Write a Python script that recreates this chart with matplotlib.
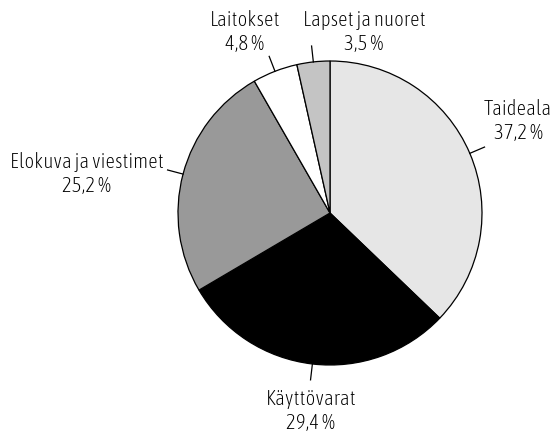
import matplotlib.pyplot as plt
import numpy as np

# Data
labels = ['Taideala', 'Käyttövarat', 'Elokuva ja viestimet', 'Laitokset', 'Lapset ja nuoret']
shares = [37.2, 29.4, 25.2, 4.8, 3.5]
pct_text = ['37,2 %', '29,4 %', '25,2 %', '4,8 %', '3,5 %']
colors = ['#e6e6e6', '#000000', '#999999', '#ffffff', '#c4c4c4']

plt.rcParams['font.family'] = ['Asap Condensed', 'DejaVu Sans']

fig = plt.figure(figsize=(5.51, 4.34), dpi=100)
ax = fig.add_axes([0, 0, 1, 1])

# pie centre and radius in pixels (y measured upwards)
cx, cy, r = 330, 434 - 213, 152
wedges, _ = ax.pie(shares, colors=colors, startangle=90, counterclock=False,
                   center=(cx, cy), radius=r, frame=True,
                   wedgeprops=dict(edgecolor='black', linewidth=0.9))
ax.set_xlim(0, 551)
ax.set_ylim(0, 434)
ax.set_aspect('equal')
ax.axis('off')

# label block centres (x, y from top)
text_pos = [(518, 121), (311, 411), (87, 174), (245, 32), (364, 32)]

for w, lab, pct, (tx, ty) in zip(wedges, labels, pct_text, text_pos):
    ang = np.deg2rad((w.theta1 + w.theta2) / 2)
    x0, y0 = cx + r * np.cos(ang), cy + r * np.sin(ang)
    x1, y1 = cx + (r + 16) * np.cos(ang), cy + (r + 16) * np.sin(ang)
    ax.plot([x0, x1], [y0, y1], color='black', linewidth=0.9)
    ax.text(tx, 434 - ty, lab + '\n' + pct, ha='center', va='center', fontsize=15,
            fontweight='light', linespacing=1.3)

fig.savefig('out.png', dpi=100)
